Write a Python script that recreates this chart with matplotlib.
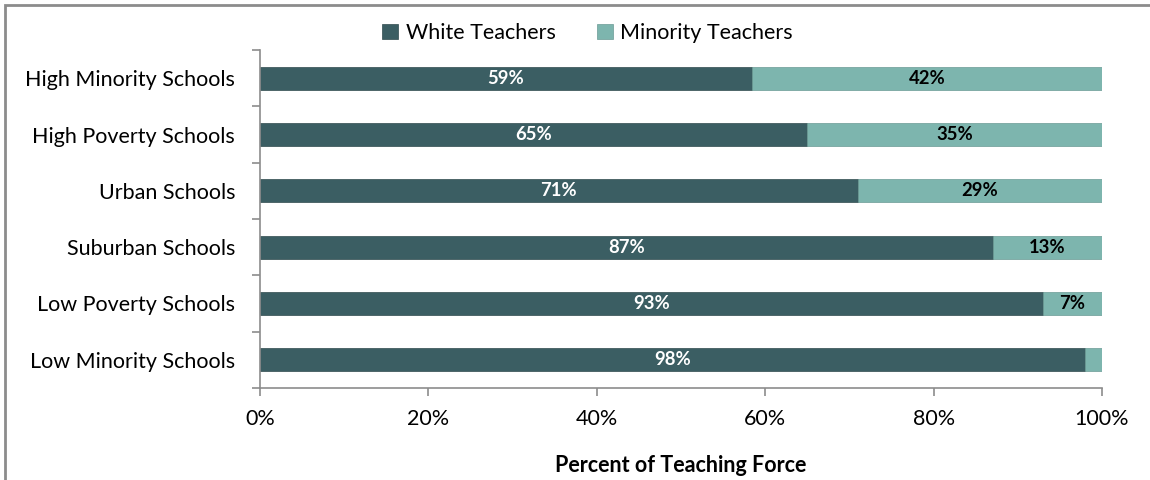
import numpy as np
import matplotlib
matplotlib.use('Agg')
import matplotlib.pyplot as plt
from matplotlib.patches import Rectangle

plt.rcParams['font.family'] = ['Lato', 'DejaVu Sans']

# data (top to bottom as drawn)
categories = ['High Minority Schools', 'High Poverty Schools', 'Urban Schools',
              'Suburban Schools', 'Low Poverty Schools', 'Low Minority Schools']
white = [59, 65, 71, 87, 93, 98]
minority = [42, 35, 29, 13, 7, 2]
xticks = [0, 20, 40, 60, 80, 100]

dark = '#3b5e63'
light = '#7db5ae'
axis_gray = '#8c8c8c'

white = np.array(white, dtype=float)
minority = np.array(minority, dtype=float)
total = white + minority
w_pct = white / total * 100
m_pct = minority / total * 100

fig = plt.figure(figsize=(11.5, 4.8), dpi=100)
ax = fig.add_axes([0.2261, 0.1917, 0.7322, 0.7041])

y = np.arange(len(categories))[::-1]
ax.barh(y, w_pct, height=0.41, color=dark, edgecolor='#2f4a4e', linewidth=0.5,
        label='White Teachers')
ax.barh(y, m_pct, left=w_pct, height=0.41, color=light, edgecolor='#6a9a94',
        linewidth=0.5, label='Minority Teachers')

for yi, wv, mv, wp, mp in zip(y, white, minority, w_pct, m_pct):
    ax.text(wp / 2, yi, f'{int(wv)}%', ha='center', va='center', color='white',
            fontsize=13.3, fontweight='bold')
    if mv >= 5:
        ax.text(wp + mp / 2, yi, f'{int(mv)}%', ha='center', va='center',
                color='black', fontsize=13.3, fontweight='bold')

ax.set_xlim(0, 100)
ax.set_ylim(-0.5, len(categories) - 0.5)
ax.set_xticks(xticks)
ax.set_xticklabels([f'{t}%' for t in xticks], fontsize=15.5)
ax.set_yticks(y)
ax.set_yticklabels(categories, fontsize=15.5)
ax.set_yticks(np.arange(len(categories) + 1) - 0.5, minor=True)
ax.tick_params(axis='y', which='major', length=0, pad=18)
ax.tick_params(axis='y', which='minor', length=6, color=axis_gray, width=1.2)
ax.tick_params(axis='x', length=6, color=axis_gray, width=1.2, pad=9)

for s in ['top', 'right']:
    ax.spines[s].set_visible(False)
for s in ['left', 'bottom']:
    ax.spines[s].set_color(axis_gray)
    ax.spines[s].set_linewidth(1.2)

ax.set_xlabel('Percent of Teaching Force', fontsize=15.5, fontweight='bold', labelpad=19)

fig.legend(handles=ax.containers, labels=['White Teachers', 'Minority Teachers'],
           loc='center', bbox_to_anchor=(0.511, 1 - 33 / 480), ncol=2, frameon=False,
           fontsize=15.5, handlelength=0.75, handleheight=0.75, handletextpad=0.35,
           columnspacing=1.9, borderaxespad=0)

fig.patches.append(Rectangle((5 / 1150, -0.1), 1.2, 1 - 5 / 480 + 0.1,
                             transform=fig.transFigure, fill=False,
                             edgecolor='#8c8c8c', linewidth=2, zorder=-1))

fig.savefig('out.png', dpi=100)
